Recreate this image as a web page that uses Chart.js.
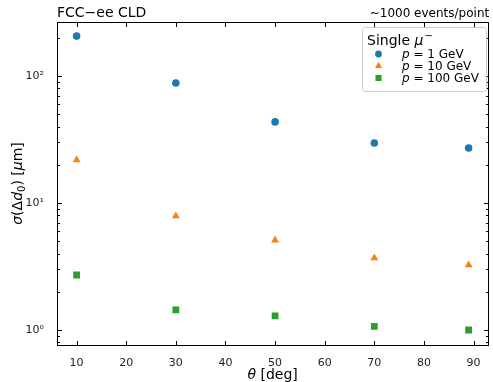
<!DOCTYPE html>
<html>
<head>
<meta charset="utf-8">
<script src="https://cdn.jsdelivr.net/npm/chart.js@4/dist/chart.umd.min.js"></script>
<style>
  html, body { margin: 0; padding: 0; background: #fff; }
  #wrap { width: 493px; height: 382px; }
</style>
</head>
<body>
<div id="wrap"><canvas id="chart" width="493" height="382"></canvas></div>
<script>
// Data
const thetaDeg = [10, 30, 50, 70, 89];
const sigma1GeV = [206, 88, 43.5, 29.7, 27.1];
const sigma10GeV = [21.8, 7.9, 5.1, 3.69, 3.25];
const sigma100GeV = [2.71, 1.44, 1.29, 1.07, 1.0];

const seriesLabels = ['1 GeV', '10 GeV', '100 GeV'];
const xTicks = [10, 20, 30, 40, 50, 60, 70, 80, 90];
const yMajor = [1, 10, 100];
const yMinor = [0.8, 0.9, 2, 3, 4, 5, 6, 7, 8, 9, 20, 30, 40, 50, 60, 70, 80, 90, 200];
const sup = { 0: '\u2070', 1: '\u00b9', 2: '\u00b2' };

const FONT = 'DejaVu Sans';
const colors = ['#1f77b4', '#ff7f0e', '#2ca02c'];
const styles = ['circle', 'triangle', 'rect'];
const radii = [3.8, 4.6, 4.8];

function pts(ys) {
  return thetaDeg.map((x, i) => ({ x, y: ys[i] }));
}

const datasets = [sigma1GeV, sigma10GeV, sigma100GeV].map((ys, i) => ({
  label: seriesLabels[i],
  data: pts(ys),
  pointStyle: styles[i],
  pointRadius: radii[i],
  pointHoverRadius: radii[i],
  backgroundColor: colors[i],
  borderColor: colors[i],
  borderWidth: 0,
  showLine: false,
}));

// Frame, inward ticks, titles and legend (matplotlib look)
const decorPlugin = {
  id: 'decor',
  afterDraw(chart) {
    const { ctx, chartArea: a, scales } = chart;
    const xs = scales.x, ys = scales.y;
    ctx.save();
    ctx.strokeStyle = '#000';
    ctx.lineWidth = 1;
    const L = Math.round(a.left) + 0.5, R = Math.round(a.right) + 0.5;
    const T = Math.round(a.top) + 0.5, B = Math.round(a.bottom) + 0.5;
    ctx.strokeRect(L, T, R - L, B - T);

    ctx.beginPath();
    xTicks.forEach((v) => {
      const p = Math.round(xs.getPixelForValue(v)) + 0.5;
      ctx.moveTo(p, B); ctx.lineTo(p, B - 4.5);
      ctx.moveTo(p, T); ctx.lineTo(p, T + 4.5);
    });
    yMajor.forEach((v) => {
      const p = Math.round(ys.getPixelForValue(v)) + 0.5;
      ctx.moveTo(L, p); ctx.lineTo(L + 4.5, p);
      ctx.moveTo(R, p); ctx.lineTo(R - 4.5, p);
    });
    yMinor.forEach((v) => {
      const p = Math.round(ys.getPixelForValue(v)) + 0.5;
      if (p < T || p > B) return;
      ctx.moveTo(L, p); ctx.lineTo(L + 2.5, p);
      ctx.moveTo(R, p); ctx.lineTo(R - 2.5, p);
    });
    ctx.stroke();

    // top titles
    ctx.fillStyle = '#000';
    ctx.textBaseline = 'alphabetic';
    ctx.font = `14px ${FONT}`;
    ctx.textAlign = 'left';
    ctx.fillText('FCC\u2212ee CLD', a.left, a.top - 5);
    ctx.font = `12px ${FONT}`;
    ctx.textAlign = 'right';
    ctx.fillText('~1000 events/point', a.right + 1, a.top - 5);

    // x axis title: italic theta + [deg]
    const part2 = ' [deg]';
    ctx.font = `italic 14px ${FONT}`;
    const w1 = ctx.measureText('\u03b8').width;
    ctx.font = `14px ${FONT}`;
    const w2 = ctx.measureText(part2).width;
    let cx = (a.left + a.right) / 2 - (w1 + w2) / 2;
    ctx.textAlign = 'left';
    ctx.font = `italic 14px ${FONT}`;
    ctx.fillText('\u03b8', cx, 379);
    ctx.font = `14px ${FONT}`;
    ctx.fillText(part2, cx + w1, 379);

    // y axis title, rotated
    const pieces = [
      ['\u03c3', 'italic 14px', 0],
      ['(\u0394', '14px', 0],
      ['d', 'italic 14px', 0],
      ['0', '10px', 3],
      [') [', '14px', 0],
      ['\u03bc', 'italic 14px', 0],
      ['m]', '14px', 0],
    ];
    let total = 0;
    pieces.forEach(([t, f]) => { ctx.font = `${f} ${FONT}`; total += ctx.measureText(t).width; });
    ctx.translate(22, (a.top + a.bottom) / 2);
    ctx.rotate(-Math.PI / 2);
    let px = -total / 2;
    pieces.forEach(([t, f, dy]) => {
      ctx.font = `${f} ${FONT}`;
      ctx.fillText(t, px, dy);
      px += ctx.measureText(t).width;
    });
    ctx.setTransform(1, 0, 0, 1, 0, 0);

    // legend box
    const bx = 362.5, by = 27.5, bw = 124, bh = 64;
    ctx.beginPath();
    ctx.roundRect(bx, by, bw, bh, 3);
    ctx.fillStyle = 'rgba(255,255,255,0.8)';
    ctx.fill();
    ctx.strokeStyle = '#cccccc';
    ctx.stroke();

    ctx.fillStyle = '#000';
    ctx.textAlign = 'left';
    ctx.font = `14px ${FONT}`;
    ctx.fillText('Single ', 367, 45);
    let tx = 367 + ctx.measureText('Single ').width;
    ctx.font = `italic 14px ${FONT}`;
    ctx.fillText('\u03bc', tx, 45);
    tx += ctx.measureText('\u03bc').width;
    ctx.font = `10px ${FONT}`;
    ctx.fillText('\u2212', tx + 1, 39);

    chart.data.datasets.forEach((ds, i) => {
      const yc = 54 + i * 12;
      ctx.fillStyle = ds.backgroundColor;
      const r = ds.pointRadius * 0.9;
      ctx.beginPath();
      if (ds.pointStyle === 'circle') {
        ctx.arc(378.5, yc, r, 0, Math.PI * 2);
      } else if (ds.pointStyle === 'triangle') {
        ctx.moveTo(378.5, yc - r);
        ctx.lineTo(378.5 + r * 0.866, yc + r * 0.5);
        ctx.lineTo(378.5 - r * 0.866, yc + r * 0.5);
        ctx.closePath();
      } else {
        const s = r * Math.SQRT1_2;
        ctx.rect(378.5 - s, yc - s, 2 * s, 2 * s);
      }
      ctx.fill();
      ctx.fillStyle = '#000';
      ctx.font = `italic 12px ${FONT}`;
      ctx.fillText('p', 402, yc + 4);
      const pw = ctx.measureText('p').width;
      ctx.font = `12px ${FONT}`;
      ctx.fillText(' = ' + ds.label, 402 + pw, yc + 4);
    });
    ctx.restore();
  },
};

new Chart(document.getElementById('chart'), {
  type: 'scatter',
  data: { datasets },
  options: {
    responsive: false,
    animation: false,
    events: [],
    layout: { padding: { left: 0, right: 3, top: 22, bottom: 0 } },
    plugins: { legend: { display: false }, tooltip: { enabled: false } },
    scales: {
      x: {
        type: 'linear',
        min: 6.05,
        max: 92.95,
        grid: { display: false },
        border: { display: false },
        afterBuildTicks: (s) => { s.ticks = xTicks.map((v) => ({ value: v })); },
        afterFit: (s) => { s.height = 37; },
        ticks: {
          padding: 4,
          color: '#222',
          font: { family: FONT, size: 11 },
          maxRotation: 0,
          autoSkip: false,
          callback: (v) => String(v),
        },
      },
      y: {
        type: 'logarithmic',
        min: 0.762,
        max: 266,
        grid: { display: false },
        border: { display: false },
        afterBuildTicks: (s) => { s.ticks = yMajor.map((v) => ({ value: v })); },
        afterFit: (s) => { s.width = 57; },
        ticks: {
          padding: 5,
          color: '#222',
          font: { family: FONT, size: 11 },
          autoSkip: false,
          callback: (v) => '10' + sup[Math.round(Math.log10(v))],
        },
      },
    },
  },
  plugins: [decorPlugin],
});
</script>
</body>
</html>
